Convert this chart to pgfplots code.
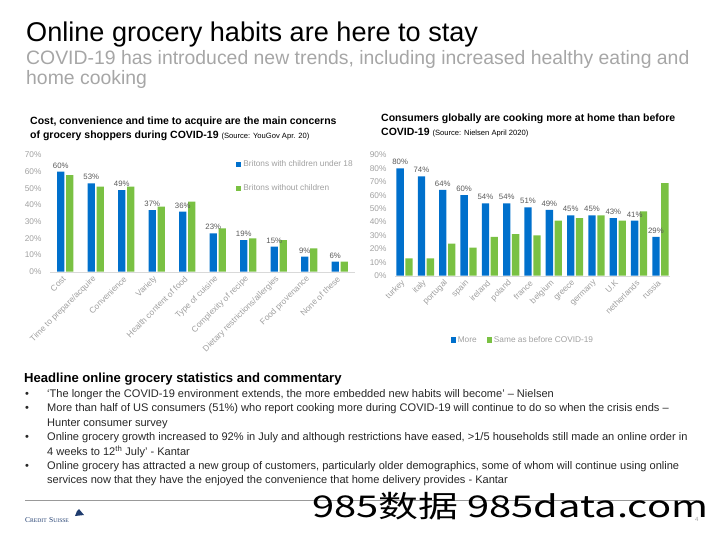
\documentclass[border=0pt]{standalone}
\usepackage{pgfplots}
\pgfplotsset{compat=1.18}
\usepackage{fontspec}
\setmainfont{Liberation Sans}
\newfontfamily\cjk{Noto Sans CJK SC}
\newfontfamily\csfont{Liberation Serif}
\definecolor{cblue}{HTML}{0070CC}
\definecolor{cgreen}{HTML}{7AC143}
\definecolor{tickgray}{HTML}{A0A0A0}
\definecolor{subgray}{HTML}{A6A6A6}
\definecolor{lblgray}{HTML}{595959}
\definecolor{csnavy}{HTML}{1F3C6E}

\pgfplotsset{
  sqlegend/.style={legend image code/.code={\fill[##1] (0pt,-2.6pt) rectangle (5.2pt,2.6pt);}},
  slide/.style={
    scale only axis, ybar=1.6pt, bar width=7.3pt, ymin=0,
    axis x line*=bottom, axis y line*=left,
    x axis line style={draw=black!15}, y axis line style={draw=none},
    major tick length=0pt, tick style={draw=none},
    tick label style={font=\fontsize{8.3}{9}\selectfont, text=tickgray},
    xticklabel style={rotate=45, anchor=east, xshift=2pt, font=\fontsize{8.4}{9}\selectfont},
    xticklabel shift=5pt, yticklabel shift=5pt,
    legend style={draw=none, fill=none, font=\fontsize{8.3}{9}\selectfont, text=tickgray},
    legend cell align=left,
    every node near coord/.append style={font=\fontsize{7.8}{8}\selectfont, text=lblgray},
  },
  pctlabels/.style={nodes near coords={\pgfmathprintnumber[assume math mode=true]{\pgfplotspointmeta}\%}},
}

\begin{document}
\begin{tikzpicture}
\path[use as bounding box] (0pt,0pt) rectangle (720pt,-540pt);

% headings
\node[anchor=base west, inner sep=0, font=\fontsize{27.1}{30}\selectfont] at (26pt,-42pt) {Online grocery habits are here to stay};
\node[anchor=base west, inner sep=0, font=\fontsize{19.4}{22}\selectfont, text=subgray] at (26pt,-64.5pt) {COVID-19 has introduced new trends, including increased healthy eating and};
\node[anchor=base west, inner sep=0, font=\fontsize{19.4}{22}\selectfont, text=subgray] at (26pt,-84.5pt) {home cooking};

\node[anchor=base west, inner sep=0, font=\fontsize{10.5}{12}\selectfont\bfseries] at (30pt,-125pt) {Cost, convenience and time to acquire are the main concerns};
\node[anchor=base west, inner sep=0, font=\fontsize{10.5}{12}\selectfont\bfseries] at (30pt,-139pt) {of grocery shoppers during COVID-19 {\mdseries\fontsize{7.6}{9}\selectfont (Source: YouGov Apr. 20)}};
\node[anchor=base west, inner sep=0, font=\fontsize{10.5}{12}\selectfont\bfseries] at (381pt,-121.5pt) {Consumers globally are cooking more at home than before};
\node[anchor=base west, inner sep=0, font=\fontsize{10.5}{12}\selectfont\bfseries] at (381pt,-135.5pt) {COVID-19 {\mdseries\fontsize{7.6}{9}\selectfont (Source: Nielsen April 2020)}};

% left chart
\begin{axis}[slide, at={(50pt,-271.7pt)}, anchor=south west,
  width=305pt, height=116.7pt,
  xmin=-0.5, xmax=9.5, ymax=70,
  ytick={0,10,20,30,40,50,60,70},
  yticklabels={0\%,10\%,20\%,30\%,40\%,50\%,60\%,70\%},
  xtick={0,1,2,3,4,5,6,7,8,9},
  xticklabels={Cost, Time to prepare/acquire, Convenience, Variety, Health content of food, Type of cuisine, Complexity of recipe, Dietary restrictions/allergies, Food provenance, None of these},
  legend style={at={(0.6,0.985)}, anchor=north west, row sep=12pt},
]
\addplot[fill=cblue, draw=none, sqlegend, pctlabels] coordinates {(0,60) (1,53) (2,49) (3,37) (4,36) (5,23) (6,19) (7,15) (8,9) (9,6)};
\addplot[fill=cgreen, draw=none, sqlegend] coordinates {(0,58) (1,51) (2,51) (3,39) (4,42) (5,26) (6,20) (7,19) (8,14) (9,6)};
\legend{Britons with children under 18, Britons without children}
\end{axis}

% right chart
\begin{axis}[slide, at={(395pt,-275.7pt)}, anchor=south west,
  width=275pt, height=120.7pt,
  xmin=-0.45, xmax=12.45, ymax=90,
  ytick={0,10,20,30,40,50,60,70,80,90},
  yticklabels={0\%,10\%,20\%,30\%,40\%,50\%,60\%,70\%,80\%,90\%},
  xtick={0,1,2,3,4,5,6,7,8,9,10,11,12},
  xticklabels={turkey, italy, portugal, spain, ireland, poland, france, belgium, greece, germany, U.K, netherlands, russia},
  legend columns=2,
  legend style={at={(0.465,-0.533)}, anchor=center, /tikz/every even column/.append style={column sep=8pt}},
]
\addplot[fill=cblue, draw=none, sqlegend, pctlabels] coordinates {(0,80) (1,74) (2,64) (3,60) (4,54) (5,54) (6,51) (7,49) (8,45) (9,45) (10,43) (11,41) (12,29)};
\addplot[fill=cgreen, draw=none, sqlegend] coordinates {(0,13) (1,13) (2,24) (3,21) (4,29) (5,31) (6,30) (7,41) (8,43) (9,45) (10,41) (11,48) (12,69)};
\legend{More, Same as before COVID-19}
\end{axis}

% commentary
\node[anchor=base west, inner sep=0, font=\fontsize{13.1}{15}\selectfont\bfseries] at (24pt,-382.5pt) {Headline online grocery statistics and commentary};
\begin{scope}[every node/.style={anchor=base west, inner sep=0, font=\fontsize{11.05}{13}\selectfont, text=black!85}]
\node at (25pt,-397pt) {•}; \node at (47pt,-397pt) {`The longer the COVID-19 environment extends, the more embedded new habits will become' -- Nielsen};
\node at (25pt,-411.5pt) {•}; \node at (47pt,-411.5pt) {More than half of US consumers (51\%) who report cooking more during COVID-19 will continue to do so when the crisis ends --};
\node at (47pt,-426pt) {Hunter consumer survey};
\node at (25pt,-440.5pt) {•}; \node at (47pt,-440.5pt) {Online grocery growth increased to 92\% in July and although restrictions have eased, >1/5 households still made an online order in};
\node at (47pt,-455pt) {4 weeks to 12\textsuperscript{th} July' - Kantar};
\node at (25pt,-469pt) {•}; \node at (47pt,-469pt) {Online grocery has attracted a new group of customers, particularly older demographics, some of whom will continue using online};
\node at (47pt,-483pt) {services now that they have the enjoyed the convenience that home delivery provides - Kantar};
\end{scope}

% footer
\draw[black!40, line width=0.8pt] (25pt,-500pt) -- (697pt,-500pt);
\node[anchor=base west, inner sep=0, text=csnavy] at (25pt,-522pt) {\csfont{\fontsize{7.5}{8}\selectfont C}{\fontsize{5.6}{6}\selectfont REDIT} {\fontsize{7.5}{8}\selectfont S}{\fontsize{5.6}{6}\selectfont UISSE}};
\fill[csnavy] (75pt,-516pt) -- (84pt,-515pt) -- (79pt,-509pt) -- (77pt,-511pt) -- cycle;
\node[anchor=base west, inner sep=0, font=\fontsize{6}{7}\selectfont, text=tickgray] at (695pt,-521pt) {4};
\node[anchor=base west, inner sep=0, xscale=1.33, font=\cjk\fontsize{30}{30}\selectfont] at (312pt,-517pt) {985数据 985data.com};
\end{tikzpicture}
\end{document}
